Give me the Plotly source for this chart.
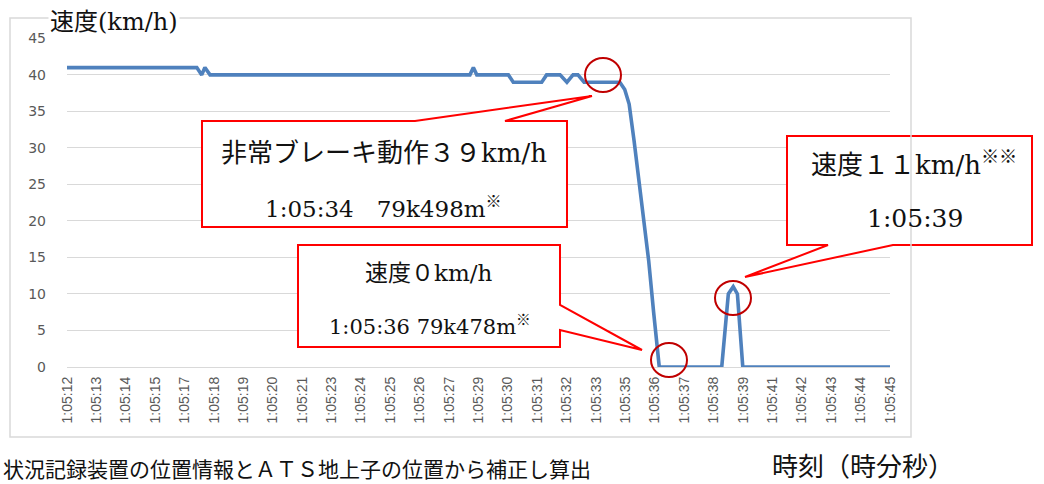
import plotly.graph_objects as go

# ---- data (seconds after 1:05:00, speed km/h) ----
time_s = [12.2, 17.50, 17.70, 17.83, 18.04, 28.65, 28.79, 28.93, 30.22, 30.42,
          31.58, 31.78, 32.33, 32.61, 32.86, 33.06, 33.31, 34.77, 34.97, 35.15,
          35.35, 35.55, 35.75, 35.95, 36.15, 36.38, 38.93, 39.20, 39.40, 39.57,
          39.79, 45.8]
speed = [41, 41, 40, 41, 40, 40, 41, 40, 40, 39,
         39, 40, 40, 39, 40, 40, 39, 39, 38, 36,
         31, 25.5, 20, 14.5, 7.5, 0, 0, 10, 11, 10,
         0, 0]

tick_labels = ["1:05:12", "1:05:13", "1:05:14", "1:05:15", "1:05:17", "1:05:18",
               "1:05:19", "1:05:20", "1:05:21", "1:05:23", "1:05:24", "1:05:25",
               "1:05:26", "1:05:27", "1:05:29", "1:05:30", "1:05:31", "1:05:32",
               "1:05:33", "1:05:35", "1:05:36", "1:05:37", "1:05:38", "1:05:39",
               "1:05:41", "1:05:42", "1:05:43", "1:05:44", "1:05:45"]
tick_step = 1.2
tick_start = 12.2
y_ticks = [0, 5, 10, 15, 20, 25, 30, 35, 40, 45]

# ---- layout helpers (pixel -> paper) ----
W, H = 1044, 484
L, R, T, B = 67, 890, 38, 367
def px(x):
    return (x - L) / (R - L)
def py(y):
    return (B - y) / (B - T)
def path(points):
    return "M " + " L ".join(f"{px(x):.5f},{py(y):.5f}" for x, y in points) + " Z"

fig = go.Figure()
fig.add_trace(go.Scatter(x=time_s, y=speed, mode="lines",
                         line=dict(color="#4F81BD", width=3.6),
                         hoverinfo="skip", showlegend=False))

tickvals = [tick_start + tick_step * i for i in range(len(tick_labels))]

fig.update_layout(
    width=W, height=H,
    margin=dict(l=L, r=W - R, t=T, b=H - B),
    paper_bgcolor="white", plot_bgcolor="white",
    xaxis=dict(range=[tick_start, tickvals[-1]], tickmode="array",
               tickvals=tickvals, ticktext=tick_labels, tickangle=-90,
               showgrid=False, zeroline=False, showline=False, ticks="",
               tickfont=dict(family="Liberation Sans", size=14, color="#595959"),
               ticklabelstandoff=6),
    yaxis=dict(range=[0, 45.05], tickmode="array", tickvals=y_ticks,
               showgrid=True, gridcolor="#D9D9D9", gridwidth=1,
               zeroline=True, zerolinecolor="#D9D9D9", zerolinewidth=1,
               showline=False, ticks="",
               tickfont=dict(family="DejaVu Sans", size=14, color="#595959"),
               ticklabelstandoff=20),
)

shapes = []
RED = "#FF0000"
# callouts
shapes.append(dict(type="path", xref="paper", yref="paper",
                   path=path([(202, 121), (415, 121), (592, 96), (505, 121),
                              (567, 121), (567, 227), (202, 227)]),
                   line=dict(color=RED, width=2), fillcolor="white"))
shapes.append(dict(type="path", xref="paper", yref="paper",
                   path=path([(298, 245), (560, 245), (560, 305), (642, 350),
                              (560, 330), (560, 347), (298, 347)]),
                   line=dict(color=RED, width=2), fillcolor="white"))
shapes.append(dict(type="path", xref="paper", yref="paper",
                   path=path([(787, 136), (1032, 136), (1032, 245), (893, 245),
                              (745, 277), (828, 245), (787, 245)]),
                   line=dict(color=RED, width=2), fillcolor="white"))
# circles
for cx, cy in [(603, 75), (669, 360), (733, 298)]:
    shapes.append(dict(type="circle", xref="paper", yref="paper",
                       x0=px(cx - 18), x1=px(cx + 18), y0=py(cy + 17), y1=py(cy - 17),
                       line=dict(color="#C00000", width=2)))
# chart area border
shapes.append(dict(type="rect", xref="paper", yref="paper",
                   x0=px(10), x1=px(911), y0=py(437), y1=py(18),
                   line=dict(color="#D9D9D9", width=1.5), fillcolor="rgba(0,0,0,0)"))
fig.update_layout(shapes=shapes)

FONT = "DejaVu Serif, Noto Sans CJK JP"
def ann(text, x, y, size=22, xanchor="center", bg=None):
    d = dict(text=text, xref="paper", yref="paper", x=px(x), y=py(y),
             xanchor=xanchor, yanchor="middle", showarrow=False,
             font=dict(family=FONT, size=size, color="#111111"))
    if bg:
        d["bgcolor"] = bg
    fig.add_annotation(**d)

ann("速度(km/h)", 48, 22, size=24, xanchor="left", bg="white")
ann("非常ブレーキ動作３９km/h", 384, 153, size=26)
ann("1:05:34　79k498m<sup>※</sup>", 383, 207, size=23)
ann("速度０km/h", 428, 273, size=23)
ann("1:05:36 79k478m<sup>※</sup>", 430, 325, size=21)
ann("速度１１km/h<sup>※※</sup>", 914, 163, size=26)
ann("1:05:39", 915, 218, size=25)
ann("状況記録装置の位置情報とＡＴＳ地上子の位置から補正し算出", 1, 470,
    size=21, xanchor="left")
ann("時刻（時分秒）", 770, 467, size=26, xanchor="left")

fig.write_html("out.html", config={"displayModeBar": False},
               post_script="document.body.style.margin='0px';")
